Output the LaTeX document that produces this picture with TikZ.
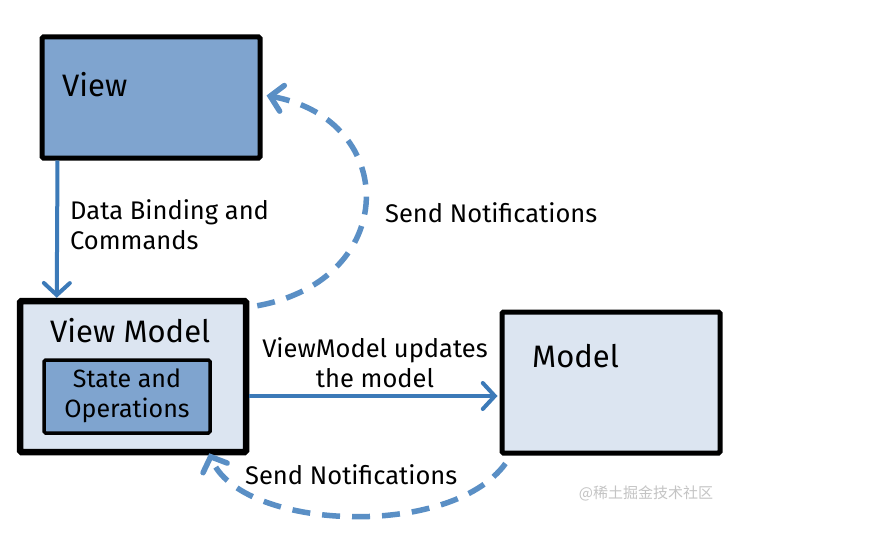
\documentclass[tikz,border=0pt]{standalone}
\usepackage{fontspec}
\setmainfont{Fira Sans}
\newfontfamily\cjk{Noto Sans CJK SC}
\usetikzlibrary{arrows.meta,calc}
\definecolor{boxdark}{HTML}{7FA4CF}
\definecolor{boxlight}{HTML}{DCE5F1}
\definecolor{arrowblue}{HTML}{3C7AB8}
\definecolor{dashblue}{HTML}{5A8FC5}
\definecolor{wmgray}{HTML}{C4C4C4}
\begin{document}
\begin{tikzpicture}[x=1pt,y=-1pt,
  box/.style={draw=black, line width=5pt, rounded corners=1.5pt, inner sep=0pt},
  bigtxt/.style={font=\fontsize{31}{34}\selectfont, anchor=west, inner sep=0pt},
  lab/.style={font=\fontsize{25.5}{30}\selectfont, align=left, inner sep=0pt},
  tip/.style={-{Straight Barb[length=12pt,width=26pt,line cap=round]}},
  solidconn/.style={draw=arrowblue, line width=4pt, tip},
  dashconn/.style={draw=dashblue, line width=5.5pt, dash pattern=on 18pt off 12pt, tip}]
\path[use as bounding box, fill=white] (0,0) rectangle (887,543);

% boxes
\node[box, fill=boxdark, minimum width=218pt, minimum height=121pt] (view) at (151,97.5) {};
\node[box, fill=boxlight, line width=6.5pt, minimum width=226pt, minimum height=151pt] (vm) at (133,376.5) {};
\node[box, fill=boxdark, line width=3.5pt, minimum width=166pt, minimum height=73pt] (inner) at (127,396.5) {};
\node[box, fill=boxlight, minimum width=218pt, minimum height=141pt] (model) at (611,382.5) {};

% box texts
\node[bigtxt] (viewtxt) at (62,85) {View};
\node[bigtxt] (vmtxt) at (50,331) {View Model};
\node[lab, align=center, font=\fontsize{25}{30}\selectfont] (innertxt) at (127,396) {State and\\Operations};
\node[bigtxt] (modeltxt) at (532,356) {Model};

% connectors
\draw[solidconn] ($(view.south west)+(18,0)$) -- ($(vm.north west)+(40,0)$);
\draw[solidconn] ($(vm.east)+(0,19.5)$) -- ($(model.west)+(-2,13.5)$);
\draw[dashconn] ($(vm.north east)+(8,8)$) .. controls (400,280) and (400,120) .. ($(view.east)+(4,-2)$);
\draw[dashconn] ($(model.south west)+(6,8)$) .. controls (450,540) and (240,530) .. ($(vm.south east)+(-40,-2)$);

% labels
\node[lab, anchor=west] (dbtxt) at (70,225) {Data Binding and\\Commands};
\node[lab, anchor=west] (sn1) at (385,213) {Send Notifications};
\node[lab, align=center] (upd) at (375,363) {ViewModel updates\\the model};
\node[lab, anchor=west] (sn2) at (245,475) {Send Notifications};
\node[text=wmgray, font=\cjk\fontsize{15}{18}\selectfont, inner sep=0pt] (wm) at (646,493) {@稀土掘金技术社区};
\end{tikzpicture}
\end{document}
